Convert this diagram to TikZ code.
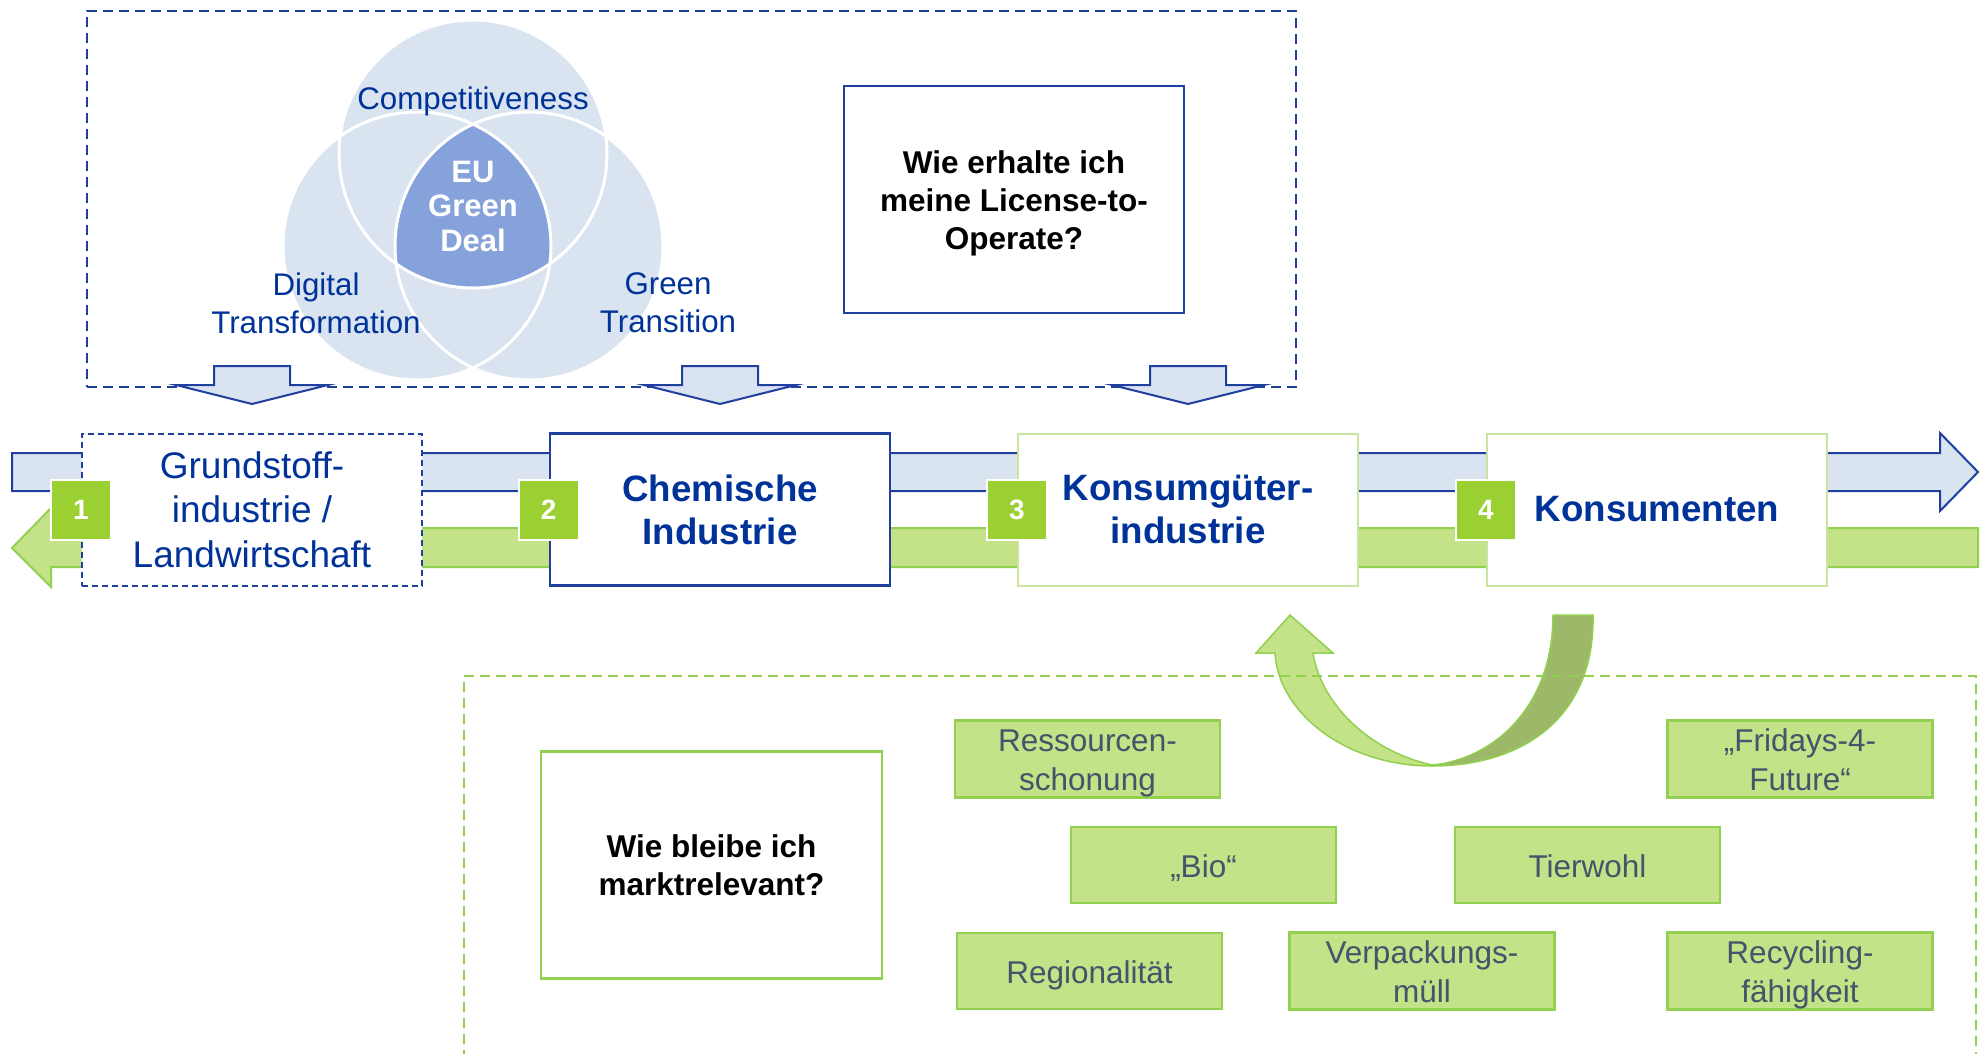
\documentclass[tikz,border=0pt]{standalone}
\usepackage{fontspec}
\setmainfont{Liberation Sans}
\definecolor{dblue}{RGB}{0,51,153}
\definecolor{lblue}{RGB}{218,227,240}
\definecolor{mblue}{RGB}{134,162,219}
\definecolor{bline}{RGB}{32,64,160}
\definecolor{lgreen}{RGB}{196,226,135}
\definecolor{bgreen}{RGB}{146,208,80}
\definecolor{sqgreen}{RGB}{154,208,50}
\definecolor{ogreen}{RGB}{157,184,104}
\definecolor{gtext}{RGB}{68,84,106}
\definecolor{pgreen}{RGB}{200,228,160}
\newcommand\tstrut{\rule{0pt}{1.0em}}
\newcommand\bstrut{\rule[-0.22em]{0pt}{0.22em}}
\begin{document}
\begin{tikzpicture}[x=1pt,y=-1pt,
  venntxt/.style={text=dblue, font=\fontsize{31.3}{38}\selectfont, align=center, inner sep=0pt},
  greenbox/.style={draw=bgreen, line width=2.5pt, fill=lgreen, minimum width=265pt, minimum height=76pt, inner sep=0pt, align=center, text=gtext, font=\fontsize{31.5}{39}\selectfont},
  stepbox/.style={fill=white, minimum width=340pt, minimum height=152pt, inner sep=0pt, align=center, text=dblue},
  numsq/.style={fill=sqgreen, draw=white, line width=2pt, minimum size=60pt, inner sep=0pt, text=white, font=\bfseries\fontsize{28}{30}\selectfont},
  qbox/.style={fill=white, minimum width=340pt, minimum height=227pt, inner sep=0pt, align=center, font=\bfseries\fontsize{31.5}{38}\selectfont},
  downarrow/.style={fill=lblue, draw=bline, line width=2pt, line join=miter},
  frame/.style={line width=2.2pt, dash pattern=on 10pt off 6pt}
]
\useasboundingbox (0,0) rectangle (1987,1053);

% top frame
\node[frame, draw=bline, minimum width=1209pt, minimum height=376pt, inner sep=0pt] (topframe) at (691.5,199) {};

% Venn
\fill[lblue] (473,154) circle[radius=134pt];
\fill[lblue] (417,246) circle[radius=134pt];
\fill[lblue] (529,246) circle[radius=134pt];
\begin{scope}
  \clip (473,154) circle[radius=134pt];
  \clip (417,246) circle[radius=134pt];
  \fill[mblue] (529,246) circle[radius=134pt];
\end{scope}
\draw[white, line width=3pt] (473,154) circle[radius=134pt];
\draw[white, line width=3pt] (417,246) circle[radius=134pt];
\draw[white, line width=3pt] (529,246) circle[radius=134pt];
\node[venntxt] (comp) at (473,101) {Competitiveness};
\node[venntxt, text=white, font=\bfseries\fontsize{31}{34.5}\selectfont] (eu) at (473,206) {EU\\Green\\Deal};
\node[venntxt] (dig) at (316,303) {Digital\\Transformation};
\node[venntxt] (gt) at (668,303) {Green\\Transition};

% license box
\node[qbox, draw=bline, line width=2.5pt] (lic) at (1014,199.5) {\tstrut Wie erhalte ich\\meine License-to-\\Operate?};

% down arrows
\foreach \cx in {252,720,1188}
  \draw[downarrow] ({\cx-38},366) -- ({\cx+38},366) -- ({\cx+38},385) -- ({\cx+76},385) -- (\cx,404) -- ({\cx-76},385) -- ({\cx-38},385) -- cycle;

% horizontal arrows
\draw[fill=lblue, draw=bline, line width=2pt, line join=miter] (12,453) -- (1940,453) -- (1940,433) -- (1978,472) -- (1940,511) -- (1940,491) -- (12,491) -- cycle;
\draw[fill=lgreen, draw=bgreen, line width=2pt, line join=miter] (1978,528) -- (51,528) -- (51,508) -- (12,548) -- (51,587) -- (51,567) -- (1978,567) -- cycle;

% step boxes
\node[stepbox, draw=bline, line width=2pt, dash pattern=on 6pt off 4pt, font=\fontsize{37}{44.5}\selectfont] (b1) at (252,509.5) {Grundstoff-\\industrie /\\Landwirtschaft};
\node[stepbox, draw=bline, line width=2.5pt, font=\bfseries\fontsize{36.7}{43}\selectfont] (b2) at (720,509.5) {Chemische\\Industrie};
\node[stepbox, draw=pgreen, line width=2pt, font=\bfseries\fontsize{36.7}{43}\selectfont] (b3) at (1188,509.5) {Konsumgüter-\\industrie};
\node[stepbox, draw=pgreen, line width=2pt, font=\bfseries\fontsize{36.7}{43}\selectfont] (b4) at (1657,509.5) {Konsumenten};
\node[numsq] (n1) at (b1.west) {1};
\node[numsq] (n2) at (b2.west) {2};
\node[numsq] (n3) at (b3.west) {3};
\node[numsq] (n4) at (b4.west) {4};

% U-turn arrow
\filldraw[fill=lgreen, draw=bgreen, line width=1.5pt, line join=miter]
  (1432,766) .. controls (1345,766) and (1278,712) .. (1275,653) -- (1256,653) -- (1290,615) -- (1333,653) -- (1313,653)
  .. controls (1320,700) and (1365,750) .. (1432,765) -- cycle;
\filldraw[fill=ogreen, draw=bgreen, line width=1.5pt]
  (1593,615) .. controls (1595,720) and (1520,766) .. (1432,766)
  -- (1432,765) .. controls (1490,760) and (1553,710) .. (1553,615) -- cycle;

% bottom frame
\draw[frame, draw=bgreen] (464,1060) -- (464,676) -- (1976,676) -- (1976,1060);

% marktrelevant box
\node[qbox, draw=bgreen, line width=2.5pt, minimum width=341pt] (mr) at (711.5,865) {Wie bleibe ich\\marktrelevant?};

% green boxes
\node[greenbox] (g1) at (1087.5,759) {\tstrut Ressourcen-\\schonung\bstrut};
\node[greenbox] (g2) at (1800,759) {\tstrut „Fridays-4-\\Future“\bstrut};
\node[greenbox] (g3) at (1203.5,865) {\tstrut „Bio“\bstrut};
\node[greenbox] (g4) at (1587.5,865) {\tstrut Tierwohl\bstrut};
\node[greenbox] (g5) at (1089.5,971) {\tstrut Regionalität\bstrut};
\node[greenbox] (g6) at (1422,971) {\tstrut Verpackungs-\\müll\bstrut};
\node[greenbox] (g7) at (1800,971) {\tstrut Recycling-\\fähigkeit\bstrut};
\end{tikzpicture}
\end{document}
